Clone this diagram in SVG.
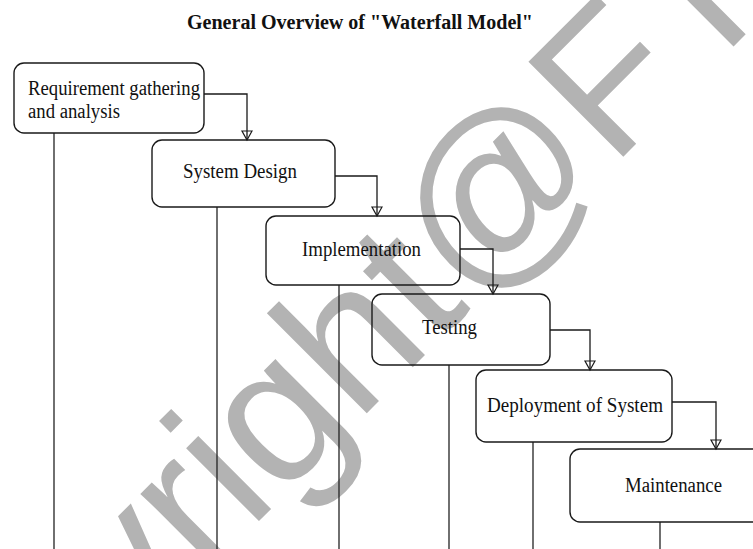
<svg xmlns="http://www.w3.org/2000/svg" width="753" height="549" viewBox="0 0 753 549">
  <style>
    .box { fill: none; stroke: #1a1a1a; stroke-width: 1.4; }
    .lbl { font-family: "Liberation Serif", "Times New Roman", serif; font-size: 20px; fill: #111; }
    .title { font-family: "Liberation Serif", "Times New Roman", serif; font-size: 20px; font-weight: bold; fill: #111; }
    .conn { fill: none; stroke: #1a1a1a; stroke-width: 1.3; }
    .drop { fill: none; stroke: #222; stroke-width: 1.3; }
    .wm { font-family: "Liberation Sans", Arial, sans-serif; font-size: 195px; fill: #b3b3b3; }
  </style>
  <defs>
    <marker id="tri" viewBox="-1 -7 12 14" refX="9" refY="0" markerWidth="12" markerHeight="14" markerUnits="userSpaceOnUse" orient="auto" overflow="visible">
      <path d="M0,-5 L9,0 L0,5 Z" fill="none" stroke="#1a1a1a" stroke-width="1.2"/>
    </marker>
  </defs>
  <rect x="0" y="0" width="753" height="549" fill="#ffffff"/>

  <text class="wm" x="0" y="0" transform="translate(-118,898) rotate(-45)">Copyright@F<tspan dx="39">r</tspan></text>

  <text class="title" x="187" y="29" textLength="346" lengthAdjust="spacingAndGlyphs">General Overview of "Waterfall Model"</text>

  <g id="connectors">
    <path class="conn" d="M204,94 H247 V140" marker-end="url(#tri)"/>
    <path class="conn" d="M335,176 H377 V216" marker-end="url(#tri)"/>
    <path class="conn" d="M460,249 H493 V294" marker-end="url(#tri)"/>
    <path class="conn" d="M550,330 H590 V370" marker-end="url(#tri)"/>
    <path class="conn" d="M672,402 H716 V449" marker-end="url(#tri)"/>
    <path class="drop" d="M54,133 V549"/>
    <path class="drop" d="M217,207 V549"/>
    <path class="drop" d="M339,285 V549"/>
    <path class="drop" d="M449,365 V549"/>
    <path class="drop" d="M533,442 V549"/>
    <path class="drop" d="M660,522 V549"/>
  </g>

  <g id="requirement">
    <rect class="box" x="14" y="63" width="190" height="70" rx="10"/>
    <text class="lbl" x="28" y="95" textLength="172" lengthAdjust="spacingAndGlyphs">Requirement gathering</text>
    <text class="lbl" x="28" y="118" textLength="92" lengthAdjust="spacingAndGlyphs">and analysis</text>
  </g>
  <g id="design">
    <rect class="box" x="152" y="140" width="183" height="67" rx="10"/>
    <text class="lbl" x="183" y="178" textLength="114" lengthAdjust="spacingAndGlyphs">System Design</text>
  </g>
  <g id="implementation">
    <rect class="box" x="266" y="216" width="194" height="69" rx="10"/>
    <text class="lbl" x="302" y="256" textLength="119" lengthAdjust="spacingAndGlyphs">Implementation</text>
  </g>
  <g id="testing">
    <rect class="box" x="372" y="294" width="178" height="71" rx="10"/>
    <text class="lbl" x="422" y="334" textLength="55" lengthAdjust="spacingAndGlyphs">Testing</text>
  </g>
  <g id="deployment">
    <rect class="box" x="476" y="370" width="196" height="72" rx="10"/>
    <text class="lbl" x="487" y="412" textLength="176" lengthAdjust="spacingAndGlyphs">Deployment of System</text>
  </g>
  <g id="maintenance">
    <rect class="box" x="570" y="449" width="200" height="73" rx="10"/>
    <text class="lbl" x="625" y="492" textLength="97" lengthAdjust="spacingAndGlyphs">Maintenance</text>
  </g>
</svg>
